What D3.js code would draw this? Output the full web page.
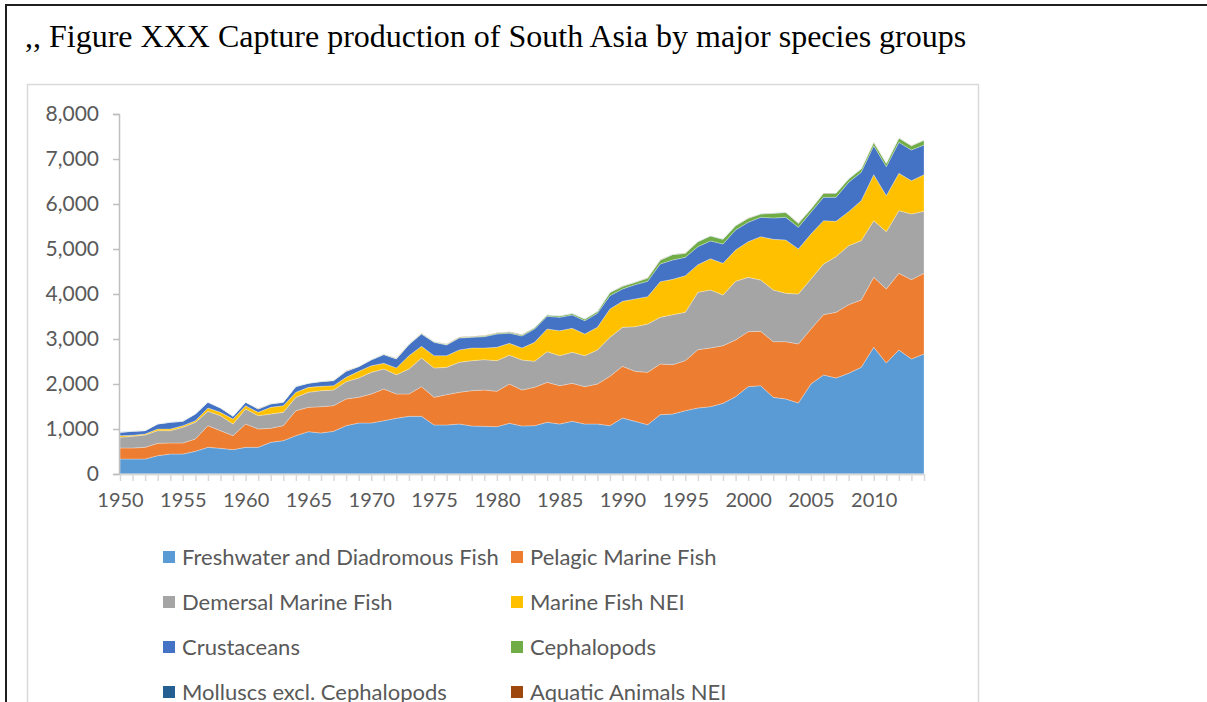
<!DOCTYPE html>
<html>
<head>
<meta charset="utf-8">
<script src="https://cdn.jsdelivr.net/npm/d3@7"></script>
<style>
  html, body { margin: 0; padding: 0; background: #fff; overflow: hidden; }
  svg { display: block; }
</style>
</head>
<body>
<svg id="chart" width="1207" height="702"></svg>
<script>
// Capture production of South Asia, thousand tonnes, 1950-2014
const years = d3.range(1950, 2015);

const freshwater = [333,333,333,407,444,444,504,593,570,541,593,593,704,741,852,941,911,948,1074,1133,
  1133,1185,1237,1281,1281,1089,1089,1111,1067,1059,1052,1126,1067,1074,1148,1111,1170,1111,1111,1074,
  1244,1170,1096,1319,1333,1407,1467,1496,1570,1719,1941,1963,1704,1667,1578,2000,2200,2133,2237,2370,
  2815,2467,2756,2556,2667];
const pelagic = [245,245,260,274,245,245,274,481,393,311,518,407,311,333,555,540,585,571,593,571,
  645,704,541,497,660,615,674,704,785,808,785,874,800,852,889,852,845,830,889,1096,
  1149,1111,1163,1125,1097,1112,1296,1304,1282,1259,1222,1207,1237,1274,1311,1222,1341,1460,1526,1497,
  1555,1644,1703,1763,1792];
const demersal = [237,259,274,282,274,348,370,319,333,259,333,296,318,296,297,334,356,348,385,429,
  481,444,429,555,637,652,607,666,667,674,682,640,666,578,682,667,689,689,756,867,
  866,993,1074,1037,1111,1074,1274,1289,1126,1303,1207,1141,1148,1074,1111,1111,1126,1237,1311,1318,
  1260,1274,1393,1459,1378];
const marineNei = [37,23,22,37,37,37,37,74,74,111,75,74,148,149,111,111,96,96,96,148,
  148,126,149,297,259,274,260,275,281,259,296,264,267,422,503,555,533,481,503,630,
  578,615,608,793,785,814,615,696,703,697,793,963,1126,1185,1000,1000,963,785,756,889,
  1022,800,829,741,815];
const crustaceans = [74,88,74,111,148,96,148,126,97,59,74,74,75,74,126,89,104,111,133,104,
  126,193,200,244,274,296,237,266,237,252,296,226,267,296,282,296,296,296,311,296,
  274,318,340,393,430,408,400,395,430,444,430,430,474,504,481,482,518,533,651,630,
  644,645,689,681,659];
const cephalopods = [3,3,3,3,3,4,4,4,4,4,5,5,5,5,6,6,6,7,7,8,
  8,9,9,10,10,12,14,15,16,18,20,22,24,26,28,30,33,36,40,70,
  58,52,72,85,120,88,110,110,105,95,88,74,105,108,88,74,88,92,75,74,
  74,74,95,92,105];
const molluscs = [2,2,2,2,2,2,2,2,2,2,3,3,3,3,3,3,3,3,3,3,
  4,4,4,4,4,4,4,4,4,4,5,5,5,5,5,5,5,5,5,5,
  5,5,5,5,5,5,5,5,5,5,5,5,5,5,5,5,5,5,5,5,
  5,5,5,5,5];
const aquaticNei = [1,1,1,1,1,1,1,1,1,1,1,1,1,1,1,1,1,1,1,1,
  2,2,2,2,2,2,2,2,2,2,2,2,2,2,2,2,2,2,2,2,
  2,2,2,2,2,2,2,2,2,2,2,2,2,2,2,2,2,2,2,2,
  2,2,2,2,2];

const seriesNames = [
  "Freshwater and Diadromous Fish", "Pelagic Marine Fish",
  "Demersal Marine Fish", "Marine Fish NEI",
  "Crustaceans", "Cephalopods",
  "Molluscs excl. Cephalopods", "Aquatic Animals NEI"
];
const seriesValues = [freshwater, pelagic, demersal, marineNei, crustaceans, cephalopods, molluscs, aquaticNei];
const seriesColors = ["#5B9BD5", "#ED7D31", "#A5A5A5", "#FFC000", "#4472C4", "#70AD47", "#255E91", "#9E480E"];

const yTicks = [0, 1000, 2000, 3000, 4000, 5000, 6000, 7000, 8000];
const xLabelYears = [1950, 1955, 1960, 1965, 1970, 1975, 1980, 1985, 1990, 1995, 2000, 2005, 2010];

const rows = years.map((yr, i) => {
  const r = { year: yr };
  seriesNames.forEach((n, k) => { r[n] = seriesValues[k][i]; });
  return r;
});

const svg = d3.select("#chart");
const labelFont = "Lato, 'Open Sans', sans-serif";
const textGrey = "#595959";

// page frame and caption
svg.append("rect")
  .attr("x", 6).attr("y", 5).attr("width", 1230).attr("height", 740)
  .attr("fill", "none").attr("stroke", "#1f1f1f").attr("stroke-width", 2);

svg.append("text")
  .attr("x", 25).attr("y", 47)
  .attr("font-family", "'Liberation Serif', 'Times New Roman', serif")
  .attr("font-size", 32)
  .attr("fill", "#000")
  .text(",, Figure XXX Capture production of South Asia by major species groups");

// chart container
svg.append("rect")
  .attr("x", 27.5).attr("y", 84.5).attr("width", 951).attr("height", 700)
  .attr("fill", "#fff").attr("stroke", "#D9D9D9").attr("stroke-width", 1.5);

const x = d3.scaleLinear().domain([1950, 2014]).range([120, 924]);
const y = d3.scaleLinear().domain([0, 8000]).range([474, 114]);

// stacked areas
const stack = d3.stack().keys(seriesNames);
const layers = stack(rows);
const area = d3.area()
  .x(d => x(d.data.year))
  .y0(d => y(d[0]))
  .y1(d => y(d[1]));

svg.append("g").selectAll("path")
  .data(layers)
  .join("path")
  .attr("d", area)
  .attr("fill", (d, i) => seriesColors[i])
  .attr("stroke", "#ffffff")
  .attr("stroke-opacity", 0.45)
  .attr("stroke-width", 0.6);

// y axis
const yAxis = d3.axisLeft(y)
  .tickValues(yTicks)
  .tickFormat(d3.format(","))
  .tickSize(6)
  .tickPadding(14);
const gy = svg.append("g").attr("transform", "translate(119,0)").call(yAxis);
gy.select(".domain").attr("stroke", "#BFBFBF").attr("stroke-width", 1.5);
gy.selectAll(".tick line").attr("stroke", "#BFBFBF").attr("stroke-width", 1.5);
gy.selectAll(".tick text")
  .attr("font-family", labelFont).attr("font-size", 21).attr("fill", textGrey);

// x axis: a tick every year, labels every five
const xAxis = d3.axisBottom(x)
  .tickValues(years)
  .tickFormat(d => xLabelYears.includes(d) ? String(d) : "")
  .tickSize(7)
  .tickPadding(12)
  .tickSizeOuter(0);
const gx = svg.append("g").attr("transform", "translate(0,474)").call(xAxis);
gx.select(".domain").attr("stroke", "#D9D9D9").attr("stroke-width", 2);
gx.selectAll(".tick line").attr("stroke", "#D9D9D9").attr("stroke-width", 1.5);
gx.selectAll(".tick text")
  .attr("font-family", labelFont).attr("font-size", 20).attr("fill", textGrey);

// legend, two columns
const legend = svg.append("g");
seriesNames.forEach((name, i) => {
  const col = i % 2, row = Math.floor(i / 2);
  const lx = col === 0 ? 163 : 511;
  const ly = 557 + row * 45;
  legend.append("rect")
    .attr("x", lx).attr("y", ly - 6).attr("width", 12).attr("height", 12)
    .attr("fill", seriesColors[i]);
  legend.append("text")
    .attr("x", lx + 19).attr("y", ly)
    .attr("dy", "0.35em")
    .attr("font-family", labelFont).attr("font-size", 22).attr("fill", textGrey)
    .text(name);
});
</script>
</body>
</html>
